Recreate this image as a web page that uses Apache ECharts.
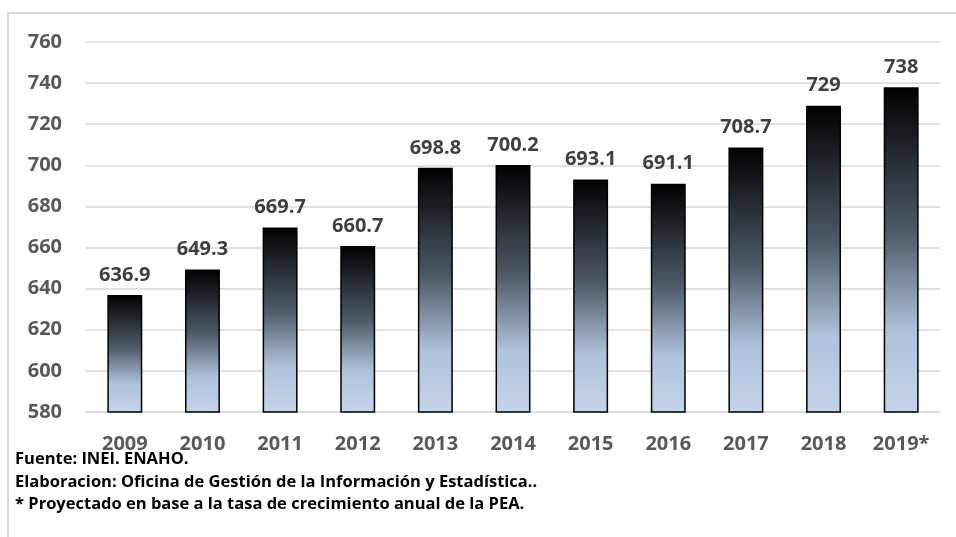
<!DOCTYPE html>
<html>
<head>
<meta charset="utf-8">
<script src="https://cdn.jsdelivr.net/npm/echarts@6/dist/echarts.min.js"></script>
<style>
  html, body { margin: 0; padding: 0; background: #fff; }
  #main { width: 956px; height: 537px; }
</style>
</head>
<body>
<div id="main"></div>
<script>
// years on the x axis
var years = ["2009", "2010", "2011", "2012", "2013", "2014", "2015", "2016", "2017", "2018", "2019*"];
// PEA values (miles)
var values = [636.9, 649.3, 669.7, 660.7, 698.8, 700.2, 693.1, 691.1, 708.7, 729, 738];
var notes = [
  "Fuente: INEI. ENAHO.",
  "Elaboracion: Oficina de Gestión de la Información y Estadística..",
  "* Proyectado en base a la tasa de crecimiento anual de la PEA."
];

var font = "'Open Sans', sans-serif";
var chart = echarts.init(document.getElementById("main"));

var option = {
  animation: false,
  grid: { left: 86, right: 16, top: 42, bottom: 125 },
  xAxis: {
    type: "category",
    data: years,
    axisLine: { lineStyle: { color: "#d9d9d9", width: 1.5 } },
    axisTick: { show: false },
    axisLabel: { color: "#595959", fontWeight: "bold", fontSize: 20, fontFamily: font, margin: 22 }
  },
  yAxis: {
    type: "value",
    min: 580,
    max: 760,
    interval: 20,
    axisLine: { show: false },
    axisTick: { show: false },
    splitLine: { lineStyle: { color: "#d9d9d9", width: 1.5 } },
    axisLabel: { color: "#595959", fontWeight: "bold", fontSize: 20, fontFamily: font, margin: 24 }
  },
  series: [{
    type: "bar",
    data: values,
    barWidth: "45%",
    itemStyle: {
      borderColor: "#000",
      borderWidth: 1.5,
      color: new echarts.graphic.LinearGradient(0, 0, 0, 1, [
        { offset: 0, color: "#000000" },
        { offset: 0.45, color: "#4f5b69" },
        { offset: 0.75, color: "#afc2dc" },
        { offset: 1, color: "#c4d4e9" }
      ])
    },
    label: {
      show: true,
      position: "top",
      distance: 10,
      color: "#404040",
      fontWeight: "bold",
      fontSize: 20,
      fontFamily: font
    }
  }],
  graphic: [
    {
      type: "rect",
      shape: { x: 8, y: 13, width: 1000, height: 600 },
      style: { fill: null, stroke: "#d9d9d9", lineWidth: 2 },
      silent: true
    }
  ].concat(notes.map(function (t, i) {
    return {
      type: "text",
      left: 15,
      top: 451 + i * 22.5,
      style: { text: t, fill: "#000", font: "bold 16.5px " + font }
    };
  }))
};

chart.setOption(option);
</script>
</body>
</html>
